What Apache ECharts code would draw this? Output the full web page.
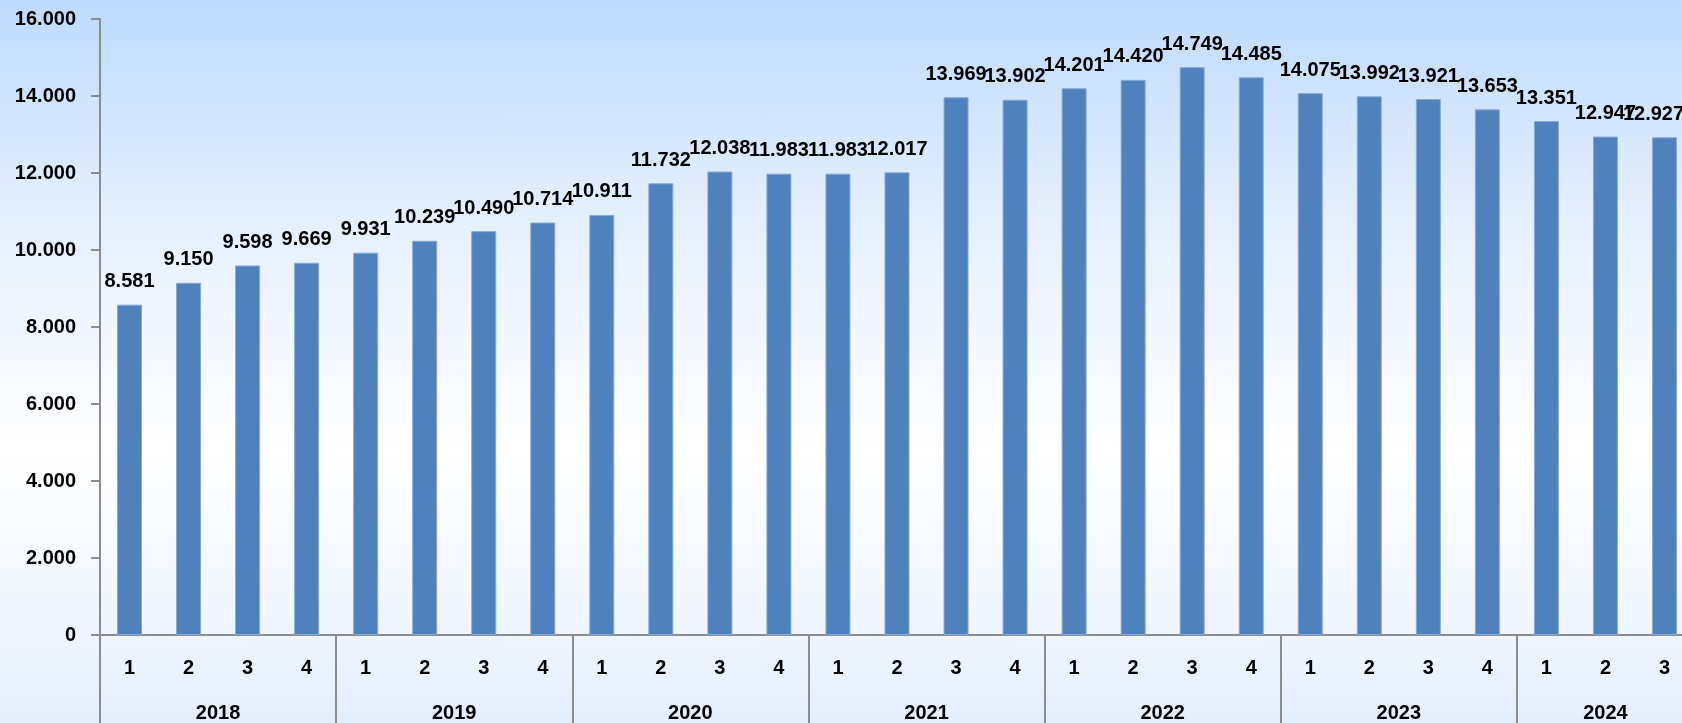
<!DOCTYPE html>
<html>
<head>
<meta charset="utf-8">
<script src="https://cdn.jsdelivr.net/npm/echarts@6/dist/echarts.min.js"></script>
<style>
  html, body { margin: 0; padding: 0; }
  body {
    width: 1682px; height: 723px; overflow: hidden;
    background: linear-gradient(to bottom, #bddbfd 0%, #e4effd 30%, #f9fbff 55%, #ffffff 62%, #f3f8fe 80%, #e4eefb 100%);
  }
  #chart { width: 1682px; height: 723px; }
</style>
</head>
<body>
<div id="chart"></div>
<script>
  // Jahre und Anzahl Quartale je Jahr
  const years = ['2018', '2019', '2020', '2021', '2022', '2023', '2024'];
  const quarterCounts = [4, 4, 4, 4, 4, 4, 3];
  const values = [
    8581, 9150, 9598, 9669,
    9931, 10239, 10490, 10714,
    10911, 11732, 12038, 11983,
    11983, 12017, 13969, 13902,
    14201, 14420, 14749, 14485,
    14075, 13992, 13921, 13653,
    13351, 12947, 12927
  ];
  const yTicks = { min: 0, max: 16000, interval: 2000 };

  // Kategorien (Quartale) und Mitte jeder Jahresgruppe
  let quarters = [];
  let yearCenters = {};
  let pos = 0;
  years.forEach(function (y, i) {
    for (let q = 1; q <= quarterCounts[i]; q++) quarters.push(String(q));
    yearCenters[pos + quarterCounts[i] / 2] = y;
    pos += quarterCounts[i];
  });

  function dots(v) {
    return String(v).replace(/\B(?=(\d{3})+(?!\d))/g, '.');
  }

  // letztes Label etwas nach links, damit es nicht abgeschnitten wird
  let barData = values.map(function (v, i) {
    return i === values.length - 1 ? { value: v, label: { offset: [-11, 0] } } : v;
  });

  const font = '"Liberation Sans", Arial, sans-serif';
  const axisGray = '#8c8c8c';

  let chart = echarts.init(document.getElementById('chart'));
  chart.setOption({
    backgroundColor: 'transparent',
    animation: false,
    grid: {
      left: 100, right: -12, top: 19, bottom: 88,
      containLabel: false,
      outerBoundsMode: 'none'
    },
    xAxis: [
      {
        type: 'category',
        data: quarters,
        position: 'bottom',
        axisLine: { lineStyle: { color: axisGray, width: 2 } },
        axisTick: { interval: 0, length: 43, lineStyle: { color: axisGray, width: 2 } },
        axisLabel: { interval: 0, margin: 23, color: '#000', fontWeight: 'bold', fontSize: 20, fontFamily: font }
      },
      {
        type: 'value',
        min: 0, max: values.length, interval: 0.5,
        position: 'bottom',
        axisLine: { show: false },
        axisTick: { show: false },
        splitLine: { show: false },
        axisLabel: {
          margin: 68, color: '#000', fontWeight: 'bold', fontSize: 20, fontFamily: font,
          showMinLabel: true, showMaxLabel: true,
          formatter: function (v) { return yearCenters[v] || ''; }
        }
      },
      {
        type: 'value',
        min: 0, max: values.length, interval: 4,
        position: 'bottom',
        axisLine: { show: false },
        axisTick: { show: true, length: 95, lineStyle: { color: axisGray, width: 2 } },
        splitLine: { show: false },
        axisLabel: { show: false }
      }
    ],
    yAxis: {
      type: 'value',
      min: yTicks.min, max: yTicks.max, interval: yTicks.interval,
      axisLine: { show: true, lineStyle: { color: axisGray, width: 2 } },
      axisTick: { show: true, length: 9, lineStyle: { color: axisGray, width: 2 } },
      splitLine: { show: false },
      axisLabel: {
        margin: 24, color: '#000', fontWeight: 'bold', fontSize: 20, fontFamily: font,
        formatter: function (v) { return dots(v); }
      }
    },
    series: [{
      type: 'bar',
      data: barData,
      barWidth: 25,
      itemStyle: { color: '#4f81bd', borderColor: '#86a9d8', borderWidth: 1 },
      label: {
        show: true,
        position: 'top',
        distance: 13,
        color: '#000',
        fontWeight: 'bold',
        fontSize: 20,
        fontFamily: font,
        formatter: function (p) { return dots(p.value); }
      }
    }]
  });
</script>
</body>
</html>
